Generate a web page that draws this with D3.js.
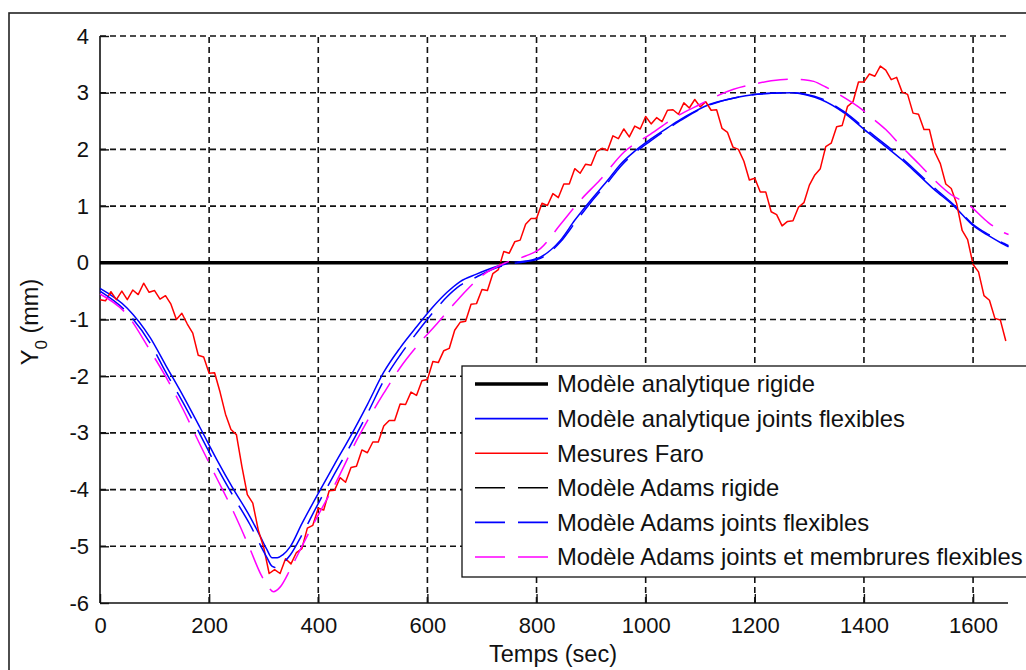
<!DOCTYPE html>
<html><head><meta charset="utf-8">
<script src="https://cdn.jsdelivr.net/npm/d3@7"></script>
<style>
body{margin:0;background:#fff;}
svg{display:block;}
text{font-family:"Liberation Sans",Arial,sans-serif;fill:#111;}
</style>
</head><body><svg id="chart" width="1026" height="670"></svg>
<script>
// ---------- data ----------
const xTicks = [0, 200, 400, 600, 800, 1000, 1200, 1400, 1600];
const yTicks = [-6, -5, -4, -3, -2, -1, 0, 1, 2, 3, 4];
const xLabel = "Temps (sec)";

const legendNames = [
  "Modèle analytique rigide",
  "Modèle analytique joints flexibles",
  "Mesures Faro",
  "Modèle Adams rigide",
  "Modèle Adams joints flexibles",
  "Modèle Adams joints et membrures flexibles"
];

// Modèle analytique rigide
const rigideT = [0, 1664];
const rigideV = [0, 0];
// Modèle Adams rigide
const adamsRigideT = [0, 1664];
const adamsRigideV = [0, 0];

// Modèle analytique joints flexibles
const jointsT = [0,50,92,120,153,183,214,245,275,295,306,315,325,335,349,370,397,430,459,490,520,550,581,610,636,660,690,716,752,780,807,844,870,899,930,954,980,1009,1040,1064,1090,1119,1150,1193,1230,1266,1295,1321,1363,1407,1440,1468,1500,1528,1565,1602,1630,1657,1665];
const jointsV = [-0.45,-0.8,-1.32,-1.8,-2.36,-2.9,-3.47,-4.0,-4.48,-4.85,-5.06,-5.2,-5.2,-5.15,-5.0,-4.6,-4.12,-3.55,-3.06,-2.5,-1.93,-1.5,-1.12,-0.78,-0.52,-0.33,-0.2,-0.1,0.0,0.03,0.1,0.4,0.75,1.1,1.45,1.74,1.97,2.18,2.38,2.53,2.67,2.8,2.88,2.96,2.99,3.0,2.96,2.88,2.65,2.3,2.05,1.83,1.55,1.3,1.0,0.64,0.47,0.32,0.28];

// Modèle Adams joints flexibles
const adamsJointsT = [0,50,92,120,153,183,214,245,275,295,306,315,325,335,349,370,397,430,459,490,520,550,581,610,636,660,690,716,752,780,807,844,870,899,930,954,980,1009,1040,1064,1090,1119,1150,1193,1230,1266,1295,1321,1363,1407,1440,1468,1500,1528,1565,1602,1630,1657,1665];
const adamsJointsV = [-0.5,-0.88,-1.42,-1.92,-2.48,-3.02,-3.6,-4.13,-4.62,-5.0,-5.2,-5.35,-5.38,-5.3,-5.15,-4.8,-4.3,-3.72,-3.22,-2.66,-2.08,-1.63,-1.23,-0.88,-0.6,-0.4,-0.25,-0.13,-0.02,0.02,0.08,0.37,0.7,1.06,1.41,1.7,1.94,2.15,2.36,2.51,2.66,2.79,2.88,2.96,2.99,3.0,2.97,2.9,2.67,2.33,2.08,1.86,1.58,1.33,1.02,0.66,0.49,0.34,0.3];

// Modèle Adams joints et membrures flexibles
const membruresT = [0,50,92,120,153,183,214,245,275,295,306,318,330,349,370,397,430,471,500,520,550,587,615,642,670,697,743,780,807,844,880,917,960,1009,1060,1101,1119,1161,1198,1230,1266,1290,1308,1330,1358,1390,1418,1440,1468,1500,1528,1560,1591,1628,1657,1665];
const membruresV = [-0.55,-0.92,-1.55,-2.0,-2.6,-3.2,-3.8,-4.4,-5.05,-5.5,-5.68,-5.8,-5.72,-5.4,-5.0,-4.5,-3.92,-3.12,-2.62,-2.3,-1.85,-1.4,-1.1,-0.8,-0.5,-0.25,0.0,0.12,0.25,0.68,1.1,1.47,1.95,2.27,2.6,2.8,2.89,3.06,3.15,3.21,3.24,3.23,3.2,3.1,2.95,2.75,2.53,2.35,2.06,1.75,1.47,1.2,1.03,0.71,0.53,0.5];

// Mesures Faro (sampled every 10 s, 0..1660)
const faroT = d3.range(0, 1661, 10);
const faroV = [
-0.65,-0.67,-0.51,-0.65,-0.50,-0.65,-0.48,-0.56,-0.36,-0.52,
-0.49,-0.64,-0.58,-0.73,-1.00,-0.89,-1.08,-1.24,-1.63,-1.66,
-1.95,-1.94,-2.28,-2.67,-2.94,-3.03,-3.59,-4.09,-4.24,-4.71,
-5.02,-5.48,-5.41,-5.48,-5.22,-5.31,-5.11,-5.04,-4.68,-4.63,
-4.33,-4.36,-4.02,-4.01,-3.79,-3.87,-3.61,-3.59,-3.30,-3.35,
-3.16,-3.16,-2.88,-2.78,-2.78,-2.49,-2.50,-2.28,-2.34,-2.08,
-2.06,-1.74,-1.76,-1.55,-1.51,-1.19,-1.05,-1.03,-0.73,-0.72,
-0.47,-0.49,-0.19,-0.12,0.20,0.17,0.37,0.40,0.68,0.78,
0.78,1.05,1.01,1.22,1.15,1.39,1.39,1.66,1.58,1.74,
1.72,1.96,2.02,1.98,2.24,2.19,2.36,2.22,2.41,2.36,
2.58,2.45,2.56,2.49,2.69,2.70,2.62,2.82,2.73,2.88,
2.75,2.84,2.69,2.70,2.37,2.30,2.04,2.00,1.79,1.46,
1.49,1.25,1.25,0.90,0.85,0.65,0.73,0.74,0.98,1.06,
1.37,1.55,1.66,2.05,2.11,2.40,2.42,2.76,2.84,3.19,
3.19,3.33,3.29,3.47,3.40,3.23,3.27,3.01,2.97,2.64,
2.62,2.35,2.35,1.95,1.75,1.39,1.31,1.04,0.57,0.41,
-0.03,-0.16,-0.58,-0.66,-0.98,-1.01,-1.38
];

// ---------- layout ----------
const svg = d3.select("#chart");
const x = d3.scaleLinear().domain([0, 1664]).range([100, 1008]);
const y = d3.scaleLinear().domain([-6, 4]).range([603, 36]);

// figure border
svg.append("rect").attr("x", 9).attr("y", 13).attr("width", 1100).attr("height", 700)
  .attr("fill", "none").attr("stroke", "#222").attr("stroke-width", 1.6);

// grid
const grid = svg.append("g").attr("stroke", "#111").attr("stroke-width", 1.6).attr("stroke-dasharray", "6,4");
grid.selectAll("line.v").data(xTicks.filter(d => d !== 0)).join("line")
  .attr("x1", d => x(d)).attr("x2", d => x(d)).attr("y1", y(-6)).attr("y2", y(4));
grid.selectAll("line.h").data(yTicks.filter(d => d !== -6)).join("line")
  .attr("class", "h")
  .attr("x1", x(0)).attr("x2", x(1664)).attr("y1", d => y(d)).attr("y2", d => y(d));

// axes
const fmt = d => String(d);
const xAxis = d3.axisBottom(x).tickValues(xTicks).tickFormat(fmt).tickSizeInner(-9).tickSizeOuter(0).tickPadding(14);
const yAxis = d3.axisLeft(y).tickValues(yTicks).tickFormat(fmt).tickSizeInner(-9).tickSizeOuter(0).tickPadding(11);
const gx = svg.append("g").attr("transform", `translate(0,${y(-6)})`).call(xAxis);
const gy = svg.append("g").attr("transform", `translate(${x(0)},0)`).call(yAxis);
[gx, gy].forEach(g => {
  g.select(".domain").attr("stroke", "#111").attr("stroke-width", 1.6);
  g.selectAll(".tick line").attr("stroke", "#111").attr("stroke-width", 1.4);
  g.selectAll(".tick text").attr("font-size", 22).attr("font-family", "Liberation Sans, Arial, sans-serif").attr("fill", "#111");
});
gx.select(".domain").attr("d", `M${x(0)},0H${x(1664)}`);
gy.select(".domain").attr("d", `M0,${y(-6)}V${y(4)}`);

// axis labels
svg.append("text").attr("x", 553).attr("y", 662).attr("text-anchor", "middle")
  .attr("font-size", 23.5).text(xLabel);
const yl = svg.append("text").attr("transform", "translate(38,322) rotate(-90)")
  .attr("text-anchor", "middle").attr("font-size", 23.5);
yl.append("tspan").text("Y");
yl.append("tspan").attr("dy", 9).attr("font-size", 17).text("0");
yl.append("tspan").attr("dy", -9).text(" (mm)");

// series
const toPts = (T, V) => T.map((t, i) => [t, V[i]]);
const lineLin = d3.line().x(d => x(d[0])).y(d => y(d[1]));
const lineSmooth = d3.line().x(d => x(d[0])).y(d => y(d[1])).curve(d3.curveMonotoneX);

const series = [
  {pts: toPts(rigideT, rigideV), color: "#000", width: 3.5, dash: null, gen: lineLin},
  {pts: toPts(jointsT, jointsV), color: "#0000ff", width: 1.5, dash: null, gen: lineSmooth},
  {pts: toPts(faroT, faroV), color: "#ff0000", width: 1.5, dash: null, gen: lineLin},
  {pts: toPts(adamsRigideT, adamsRigideV), color: "#000", width: 1.5, dash: "30,13", gen: lineLin},
  {pts: toPts(adamsJointsT, adamsJointsV), color: "#0000ff", width: 1.5, dash: "30,13", gen: lineSmooth},
  {pts: toPts(membruresT, membruresV), color: "#ff00ff", width: 1.5, dash: "30,13", gen: lineSmooth}
];
svg.append("g").selectAll("path").data(series).join("path")
  .attr("d", d => d.gen(d.pts))
  .attr("fill", "none")
  .attr("stroke", d => d.color)
  .attr("stroke-width", d => d.width)
  .attr("stroke-dasharray", d => d.dash)
  .attr("stroke-linejoin", "round");

// legend
const lg = svg.append("g");
lg.append("rect").attr("x", 462).attr("y", 366).attr("width", 600).attr("height", 211)
  .attr("fill", "#fff").attr("stroke", "#111").attr("stroke-width", 1.3);
const rows = lg.selectAll("g.row").data(series).join("g")
  .attr("transform", (d, i) => `translate(0,${384 + i * 34.6})`);
rows.append("line").attr("x1", 475).attr("x2", 548).attr("y1", 0).attr("y2", 0)
  .attr("stroke", d => d.color).attr("stroke-width", (d, i) => i === 0 ? 3.5 : 1.6)
  .attr("stroke-dasharray", d => d.dash);
rows.append("text").attr("x", 557).attr("y", 0).attr("dy", "0.35em")
  .attr("font-size", 23.8).text((d, i) => legendNames[i]);
</script>
</body></html>
